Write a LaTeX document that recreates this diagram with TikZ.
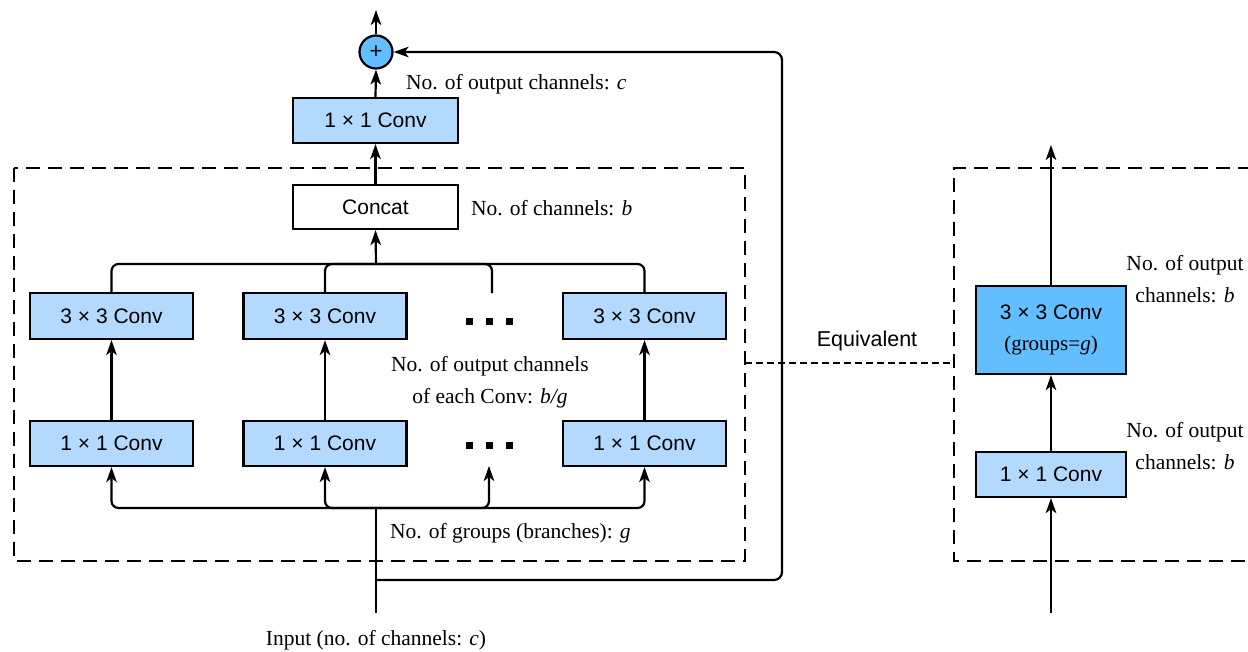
\documentclass[tikz,border=0pt]{standalone}
\usepackage{fontspec}
\setmainfont{Liberation Serif}
\setsansfont{Liberation Sans}
\usetikzlibrary{arrows.meta}
\definecolor{lightblue}{RGB}{179,217,255}
\definecolor{darkblue}{RGB}{99,190,255}
\begin{document}
\begin{tikzpicture}[x=1pt,y=-1pt,
  line width=2.2pt,
  arr/.style={-{Stealth[length=15pt,width=10.5pt,inset=4pt]}},
  convbox/.style={draw,fill=lightblue,inner sep=0pt,font=\sffamily\fontsize{21}{24}\selectfont,minimum height=45pt},
  plainbox/.style={draw,fill=white,inner sep=0pt,font=\sffamily\fontsize{21}{24}\selectfont,minimum height=44pt},
  lbl/.style={inner sep=0pt,font=\rmfamily\fontsize{21.5}{32}\selectfont},
  dashbox/.style={dash pattern=on 14pt off 8pt,line width=2pt},
  dashlink/.style={dash pattern=on 7pt off 4pt,line width=2pt},
  dotmark/.style={fill=black,inner sep=0pt,minimum size=7pt},
  rnd/.style={rounded corners=7pt}
]
\useasboundingbox (0,0) rectangle (1248,651);

% dashed frames
\draw[dashbox] (14,168) rectangle (745,561);
\draw[dashbox] (1252,168) -- (954,168) -- (954,561) -- (1252,561);
\coordinate (eqL) at (745,363);
\coordinate (eqR) at (954,363);
\draw[dashlink] (eqL) -- (eqR);
\node[inner sep=0pt,font=\sffamily\fontsize{21.5}{24}\selectfont] (eqlabel) at (867,341) {Equivalent};

% top part
\node[draw,circle,fill=darkblue,minimum size=33pt,inner sep=0pt,font=\sffamily\fontsize{22}{24}\selectfont] (plus) at (376,52) {+};
\coordinate (out) at (376,10);
\node[convbox,minimum width=165pt] (convc) at (375.5,120.5) {1 × 1 Conv};
\node[plainbox,minimum width=165pt] (concat) at (375.5,207) {Concat};

% branches
\node[convbox,minimum width=163pt,minimum height=46pt] (c3a) at (111.5,316) {3 × 3 Conv};
\node[convbox,minimum width=163pt,minimum height=46pt] (c3b) at (325,316) {3 × 3 Conv};
\node[convbox,minimum width=163pt,minimum height=46pt] (c3d) at (644.5,316) {3 × 3 Conv};
\node[convbox,minimum width=163pt] (c1a) at (111.5,443.5) {1 × 1 Conv};
\node[convbox,minimum width=163pt] (c1b) at (325,443.5) {1 × 1 Conv};
\node[convbox,minimum width=163pt] (c1d) at (644.5,443.5) {1 × 1 Conv};

\node[dotmark] (dt1) at (469,321) {};
\node[dotmark] (dt2) at (489,321) {};
\node[dotmark] (dt3) at (509,321) {};
\node[dotmark] (db1) at (469,445) {};
\node[dotmark] (db2) at (489,445) {};
\node[dotmark] (db3) at (509,445) {};

\coordinate (busT) at (376,264);
\coordinate (dotsTop) at (492,293);
\coordinate (busB) at (376,508);
\coordinate (dotsBot) at (489,466);
\coordinate (inp) at (376,613);
\coordinate (resB) at (376,580);
\coordinate (rcB) at (782,580);
\coordinate (rcT) at (782,52);

\draw[arr] (plus.north) -- (out);
\draw[arr] (convc.north) -- (plus.south);
\draw[arr] (concat.north) -- (convc.south);
\draw[arr] (busT) -- (concat.south);
\draw[rnd] (c3a.north) |- (busT) -| (c3d.north);
\draw[rnd] (c3b.north) |- (busT) -| (dotsTop);

\draw[arr] (c1a.north) -- (c3a.south);
\draw[arr] (c1b.north) -- (c3b.south);
\draw[arr] (c1d.north) -- (c3d.south);

\draw (inp) -- (busB);
\draw[arr,rnd] (busB) -| (c1a.south);
\draw[arr,rnd] (busB) -| (c1d.south);
\draw[arr,rnd] (busB) -| (c1b.south);
\draw[arr,rnd] (busB) -| (dotsBot);

\draw[arr,rounded corners=8pt] (resB) -- (rcB) -- (rcT) -- (plus.east);

% labels left
\node[lbl,anchor=west] (lout) at (405,84) {No. of output channels: \textit{c}};
\node[lbl,anchor=west] (lcat) at (470,208) {No. of channels: \textit{b}};
\node[lbl,align=center] (leach) at (490,382) {No. of output channels\\of each Conv: \textit{b/g}};
\node[lbl,anchor=west] (lgrp) at (389,533) {No. of groups (branches): \textit{g}};
\node[lbl] (linp) at (376,640) {Input (no. of channels: \textit{c})};

% right part
\node[convbox,minimum width=150pt] (r1) at (1051,474.5) {1 × 1 Conv};
\node[convbox,fill=darkblue,minimum width=150pt,minimum height=88pt,align=center,font=\sffamily\fontsize{21}{31}\selectfont] (r3) at (1051,330) {3 × 3 Conv\\{\rmfamily (groups=\textit{g})}};
\coordinate (rin) at (1051,613);
\coordinate (rout) at (1051,145);
\draw[arr] (rin) -- (r1.south);
\draw[arr] (r1.north) -- (r3.south);
\draw[arr] (r3.north) -- (rout);
\node[lbl,align=center] (lr3) at (1185,279) {No. of output\\channels: \textit{b}};
\node[lbl,align=center] (lr1) at (1185,446) {No. of output\\channels: \textit{b}};
\end{tikzpicture}
\end{document}
